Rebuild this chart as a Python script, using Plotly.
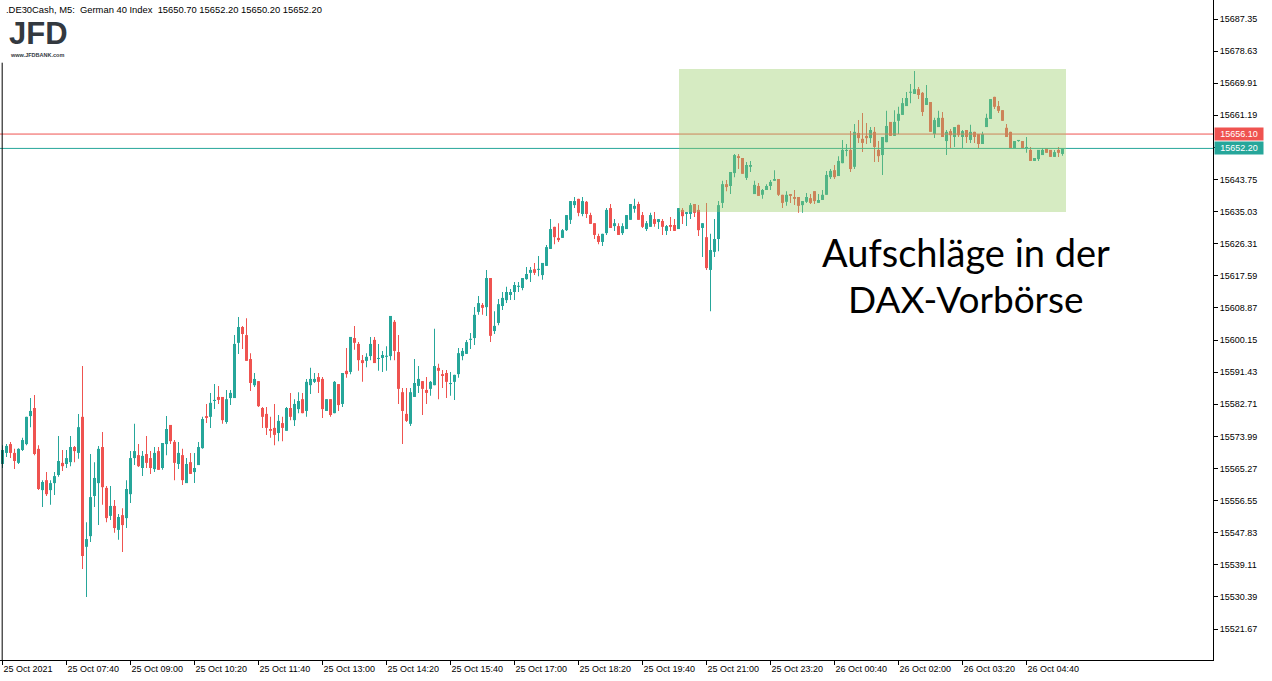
import plotly.graph_objects as go

opens = [15566.5,15569.5,15571.9,15569.5,15566.8,15570.3,15571.9,15579.5,15581.7,15570.6,
15559.4,15562.1,15559.4,15561.3,15563.5,15566.8,15566.5,15567.0,15571.1,15569.5,
15579.3,15544.0,15546.9,15557.8,15561.3,15571.1,15560.0,15552.4,15555.1,15548.6,
15552.6,15551.8,15558.3,15568.1,15568.9,15565.4,15569.2,15568.1,15565.1,15570.0,
15565.4,15571.9,15577.1,15572.5,15566.5,15568.9,15561.3,15567.0,15564.3,15566.2,
15570.8,15579.5,15579.3,15583.6,15584.7,15584.7,15577.9,15584.4,15584.4,15599.4,
15603.7,15601.5,15595.0,15587.9,15589.0,15581.7,15580.1,15576.0,15576.3,15574.9,
15577.6,15575.5,15581.7,15578.4,15581.4,15584.1,15580.9,15587.9,15588.8,15590.1,
15589.6,15580.9,15584.1,15580.3,15588.2,15582.8,15591.8,15591.5,15600.7,15599.1,
15594.7,15594.5,15595.8,15600.2,15595.0,15595.3,15595.6,15595.8,15605.1,15596.9,
15586.0,15580.1,15577.4,15584.7,15587.7,15589.0,15586.6,15586.9,15587.9,15592.6,
15590.9,15591.2,15588.2,15588.8,15590.9,15595.8,15596.4,15600.2,15600.7,15607.8,
15609.7,15609.1,15617.0,15602.6,15604.8,15609.4,15611.0,15612.4,15613.2,15614.6,
15614.3,15616.7,15618.4,15619.4,15619.2,15617.8,15620.3,15624.9,15630.9,15627.9,
15627.9,15630.0,15632.8,15636.8,15638.5,15634.4,15637.7,15634.1,15631.9,15628.4,
15626.8,15629.2,15636.0,15631.1,15631.1,15629.2,15630.3,15632.8,15635.8,15637.1,
15634.1,15630.3,15630.9,15633.0,15632.2,15632.5,15629.8,15631.4,15631.4,15630.3,
15635.5,15634.4,15634.4,15637.1,15635.5,15630.6,15628.1,15619.2,15624.1,15627.6,
15637.4,15642.5,15642.0,15645.5,15650.1,15649.6,15644.2,15647.2,15639.8,15642.0,
15639.6,15640.9,15642.0,15643.4,15643.9,15639.6,15637.7,15639.8,15639.0,15639.0,
15636.8,15637.7,15638.7,15640.6,15637.4,15638.2,15639.6,15644.4,15646.3,15644.7,
15648.2,15651.5,15651.8,15647.2,15656.4,15654.8,15655.6,15655.0,15656.7,15651.8,
15650.4,15653.9,15659.4,15655.6,15659.7,15661.3,15663.7,15667.3,15667.0,15668.3,
15667.3,15664.0,15664.8,15656.1,15658.0,15660.5,15654.2,15656.9,15655.3,15658.6,
15655.3,15657.2,15654.5,15656.7,15656.1,15653.4,15658.0,15660.2,15666.2,15663.7,
15662.6,15657.8,15656.7,15652.3,15654.2,15654.2,15652.3,15651.8,15648.8,15649.3,
15650.4,15652.3,15651.8,15649.9,15651.8,15650.7]

highs = [15571.6,15571.9,15572.5,15570.6,15570.8,15573.6,15579.3,15584.4,15585.2,15571.6,
15562.1,15564.3,15562.1,15564.3,15574.1,15570.3,15570.3,15574.1,15571.4,15580.1,
15593.1,15550.7,15569.2,15567.0,15571.4,15575.2,15560.5,15560.5,15556.7,15552.9,
15554.5,15562.1,15570.0,15577.4,15571.9,15570.0,15574.1,15570.0,15571.1,15571.1,
15572.2,15579.5,15577.1,15573.0,15572.5,15570.6,15568.1,15569.5,15569.5,15572.5,
15579.3,15582.8,15585.8,15588.2,15587.7,15584.7,15586.6,15586.6,15601.5,15606.4,
15604.0,15606.1,15596.6,15591.2,15589.0,15582.0,15582.0,15579.3,15582.8,15579.8,
15579.3,15582.0,15585.8,15584.1,15586.0,15585.8,15589.6,15592.6,15591.2,15591.2,
15590.1,15584.1,15584.1,15589.0,15588.2,15591.2,15598.0,15601.0,15604.0,15599.6,
15596.1,15596.6,15601.0,15601.0,15599.1,15597.2,15598.5,15606.7,15605.6,15601.5,
15587.1,15587.1,15587.1,15595.0,15593.1,15589.0,15590.1,15589.0,15603.2,15593.7,
15592.0,15592.0,15591.5,15590.7,15598.0,15598.0,15600.2,15602.1,15609.1,15612.1,
15610.2,15619.2,15617.0,15608.0,15611.3,15613.2,15614.6,15614.0,15615.9,15615.9,
15617.0,15620.0,15620.0,15621.1,15623.0,15621.1,15626.0,15633.0,15630.9,15631.9,
15630.3,15634.1,15637.9,15639.0,15638.5,15639.0,15637.9,15634.7,15631.9,15629.0,
15629.0,15636.0,15637.1,15633.0,15631.9,15631.9,15634.1,15637.1,15638.5,15637.7,
15634.9,15632.5,15634.7,15634.9,15633.0,15633.0,15631.4,15633.6,15633.0,15636.0,
15636.0,15634.9,15637.4,15637.1,15636.8,15631.9,15637.4,15629.0,15633.0,15637.9,
15643.4,15643.6,15645.8,15650.7,15650.7,15649.6,15648.5,15648.8,15643.4,15642.8,
15641.2,15642.5,15643.6,15646.3,15643.9,15639.6,15640.6,15639.8,15640.9,15639.0,
15637.9,15640.1,15639.8,15640.6,15639.8,15640.9,15646.1,15646.6,15647.7,15650.1,
15654.5,15653.4,15656.9,15658.8,15659.9,15661.8,15659.1,15658.0,15658.0,15654.2,
15655.3,15662.4,15659.4,15662.6,15663.5,15665.9,15667.5,15669.7,15673.2,15668.9,
15667.5,15669.4,15664.8,15660.5,15662.4,15662.1,15657.2,15657.5,15658.0,15658.6,
15657.2,15657.2,15658.6,15656.7,15656.1,15656.7,15661.6,15665.6,15666.2,15665.1,
15662.6,15658.8,15656.7,15654.2,15654.4,15654.2,15655.3,15652.6,15649.6,15651.8,
15652.3,15652.3,15651.8,15651.8,15652.6,15652.2]

lows = [15565.4,15568.4,15568.1,15565.1,15566.5,15570.0,15571.6,15576.5,15568.9,15559.4,
15554.8,15557.8,15555.4,15558.1,15563.0,15564.6,15565.4,15565.9,15567.0,15567.9,
15538.0,15530.4,15545.3,15554.8,15549.9,15555.4,15550.7,15551.3,15547.8,15545.9,
15542.6,15549.1,15555.9,15566.2,15565.7,15563.2,15565.4,15563.8,15564.3,15564.9,
15564.9,15568.9,15571.9,15562.1,15565.1,15560.8,15561.3,15563.8,15561.3,15566.2,
15570.6,15577.6,15576.3,15581.4,15582.8,15577.4,15577.4,15582.5,15584.4,15596.4,
15597.7,15594.5,15586.3,15587.4,15582.0,15576.3,15574.4,15573.6,15571.6,15572.7,
15572.7,15575.5,15578.4,15576.8,15580.3,15580.3,15579.3,15585.5,15588.5,15585.8,
15579.0,15580.9,15579.3,15580.3,15580.9,15582.0,15589.9,15590.9,15597.5,15591.8,
15588.8,15592.8,15594.7,15593.9,15591.8,15591.5,15591.8,15594.7,15594.7,15582.8,
15571.9,15577.9,15576.8,15584.7,15585.8,15579.8,15582.8,15585.0,15587.9,15584.1,
15587.1,15584.4,15585.0,15583.9,15589.9,15594.7,15596.4,15597.7,15598.8,15607.0,
15607.0,15606.7,15599.6,15601.8,15604.2,15608.3,15610.2,15611.0,15611.0,15613.2,
15613.7,15616.5,15615.9,15617.8,15617.5,15616.5,15620.3,15624.9,15626.2,15626.8,
15627.9,15629.8,15631.7,15636.0,15633.8,15633.8,15633.3,15631.7,15627.6,15626.2,
15625.7,15628.7,15630.6,15629.8,15628.7,15628.7,15630.3,15632.8,15634.7,15632.8,
15630.6,15629.8,15630.9,15630.9,15630.3,15628.7,15628.7,15629.8,15629.8,15630.3,
15631.7,15631.1,15633.0,15633.6,15628.4,15622.7,15619.2,15608.0,15622.7,15624.3,
15636.0,15640.6,15639.8,15644.4,15646.6,15645.3,15643.6,15645.8,15639.8,15639.3,
15638.5,15640.9,15640.9,15643.4,15639.3,15636.0,15636.6,15637.4,15636.8,15634.7,
15634.7,15637.4,15637.1,15637.1,15637.4,15638.2,15639.6,15643.9,15643.9,15644.7,
15648.2,15650.1,15645.8,15646.6,15653.7,15651.2,15653.4,15653.7,15648.5,15648.5,
15645.0,15653.9,15655.6,15655.6,15656.1,15661.3,15663.7,15664.5,15667.0,15665.6,
15661.0,15664.0,15656.7,15655.0,15658.0,15655.3,15650.4,15652.3,15652.6,15655.3,
15652.3,15653.7,15653.7,15653.7,15652.3,15653.4,15658.0,15660.2,15662.9,15661.8,
15659.7,15655.3,15652.3,15652.3,15654.0,15652.3,15651.0,15648.8,15648.8,15648.8,
15650.4,15651.0,15649.9,15649.9,15649.9,15650.2]

closes = [15570.3,15571.4,15569.5,15567.3,15570.6,15573.0,15579.3,15580.9,15569.2,15559.7,
15561.6,15558.3,15561.3,15563.2,15567.3,15565.9,15568.1,15571.1,15570.0,15576.5,
15541.5,15546.1,15557.5,15562.7,15570.6,15560.2,15551.8,15555.1,15549.1,15552.1,
15549.9,15559.7,15568.1,15570.0,15565.9,15568.7,15566.8,15565.4,15569.5,15564.9,
15572.2,15576.0,15572.7,15566.8,15569.5,15562.1,15566.5,15563.8,15565.4,15571.1,
15578.7,15579.0,15583.1,15583.6,15583.9,15578.4,15584.1,15585.8,15599.1,15603.7,
15601.8,15594.5,15588.5,15589.6,15582.2,15579.3,15576.3,15575.5,15574.4,15578.2,
15576.3,15581.7,15579.3,15582.8,15583.6,15580.3,15588.8,15589.6,15589.6,15588.8,
15581.4,15584.1,15579.8,15588.8,15582.5,15591.2,15590.9,15601.0,15599.4,15594.7,
15593.9,15595.6,15599.1,15593.9,15595.0,15596.1,15595.6,15606.7,15597.2,15586.9,
15580.9,15578.2,15586.0,15588.5,15589.6,15586.9,15585.8,15588.8,15593.1,15591.8,
15590.4,15588.8,15588.2,15590.7,15596.6,15597.2,15599.6,15600.2,15607.0,15610.2,
15608.9,15617.0,15601.3,15604.0,15609.9,15611.6,15613.2,15613.2,15615.1,15614.6,
15617.0,15618.1,15619.2,15618.4,15619.2,15621.1,15625.4,15630.3,15628.1,15627.3,
15630.0,15634.1,15637.9,15637.9,15634.7,15637.9,15634.4,15631.7,15628.7,15626.8,
15629.0,15635.5,15630.6,15631.9,15628.7,15631.1,15634.1,15637.1,15636.6,15632.8,
15630.9,15631.9,15634.1,15631.7,15633.0,15630.9,15631.1,15630.9,15629.8,15636.0,
15633.8,15634.9,15636.8,15634.7,15630.0,15631.9,15619.7,15624.6,15627.6,15636.8,
15642.5,15641.7,15645.8,15650.4,15649.6,15645.3,15647.7,15647.7,15642.3,15639.3,
15640.9,15642.0,15643.1,15643.9,15639.6,15637.4,15639.6,15639.3,15638.5,15636.6,
15637.9,15639.0,15637.4,15637.9,15638.2,15639.6,15645.0,15646.1,15644.4,15648.8,
15651.8,15651.5,15646.6,15656.7,15655.0,15653.7,15655.0,15657.2,15652.6,15650.1,
15655.3,15658.3,15655.6,15659.4,15661.6,15664.5,15665.9,15667.5,15668.3,15666.7,
15662.1,15665.9,15656.7,15659.9,15660.5,15655.3,15656.7,15655.8,15658.0,15655.8,
15656.9,15655.3,15656.7,15655.3,15653.4,15656.1,15660.5,15665.6,15663.5,15662.4,
15659.7,15655.3,15652.3,15654.2,15654.2,15652.3,15652.6,15648.8,15649.6,15651.8,
15651.8,15651.0,15649.9,15651.2,15651.0,15652.2]

tick_bars = [0, 16, 32, 48, 64, 80, 96, 112, 128, 144, 160, 176, 192, 208, 224, 240, 256]
tick_labels = ["25 Oct 2021", "25 Oct 07:40", "25 Oct 09:00", "25 Oct 10:20", "25 Oct 11:40",
               "25 Oct 13:00", "25 Oct 14:20", "25 Oct 15:40", "25 Oct 17:00", "25 Oct 18:20",
               "25 Oct 19:40", "25 Oct 21:00", "25 Oct 23:20", "26 Oct 00:40", "26 Oct 02:00",
               "26 Oct 03:20", "26 Oct 04:40"]
price_ticks = [15521.67, 15530.39, 15539.11, 15547.83, 15556.55, 15565.27, 15573.99, 15582.71,
               15591.43, 15600.15, 15608.87, 15617.59, 15626.31, 15635.03, 15643.75, 15652.47,
               15661.19, 15669.91, 15678.63, 15687.35]
ask_price = 15656.10
bid_price = 15652.20
zone_low, zone_high = 15634.9, 15673.8
zone_start_bar, zone_end_bar = 169, 265

UP = "#26a69a"
DOWN = "#ef5350"

n = len(opens)
bars = list(range(n))
colors = [UP if c >= o else DOWN for o, c in zip(opens, closes)]
body_base = [min(o, c) for o, c in zip(opens, closes)]
body_h = [max(abs(c - o), 0.3) for o, c in zip(opens, closes)]
wick_h = [h - l for h, l in zip(highs, lows)]

fig = go.Figure()
fig.add_trace(go.Bar(x=bars, y=wick_h, base=lows, width=0.25,
                     marker=dict(color=colors, line=dict(width=0)), hoverinfo="skip"))
fig.add_trace(go.Bar(x=bars, y=body_h, base=body_base, width=0.75,
                     marker=dict(color=colors, line=dict(width=0)), hoverinfo="skip"))

FONT = "Liberation Sans"

fig.update_layout(
    width=1272, height=681,
    margin=dict(l=0, r=59, t=0, b=21),
    paper_bgcolor="white", plot_bgcolor="white",
    barmode="overlay", showlegend=False,
    font=dict(family=FONT, size=9, color="black"),
    xaxis=dict(range=[-0.625, 302.625], tickmode="array", tickvals=tick_bars, ticktext=tick_labels,
               ticklabelposition="outside right", ticks="outside", ticklen=4, tickcolor="black",
               showline=True, linecolor="black", linewidth=1, showgrid=False, zeroline=False,
               tickfont=dict(family=FONT, size=9, color="black"), automargin=False, fixedrange=True),
    yaxis=dict(range=[15513.26, 15692.51], side="right", tickmode="array", tickvals=price_ticks,
               ticktext=[f"{v:.2f}" for v in price_ticks], ticks="outside", ticklen=4, tickcolor="black",
               showline=True, linecolor="black", linewidth=1, showgrid=False, zeroline=False,
               tickfont=dict(family=FONT, size=9, color="black"), automargin=False, fixedrange=True),
)

shapes = [
    dict(type="line", xref="paper", yref="y", x0=0, x1=1, y0=ask_price, y1=ask_price,
         line=dict(color=DOWN, width=1), layer="above"),
    dict(type="line", xref="paper", yref="y", x0=0, x1=1, y0=bid_price, y1=bid_price,
         line=dict(color=UP, width=1), layer="above"),
    dict(type="rect", xref="x", yref="y", x0=zone_start_bar + 0.125, x1=zone_end_bar + 0.875,
         y0=zone_low, y1=zone_high, fillcolor="rgb(153,204,102)", opacity=0.4,
         line=dict(width=0), layer="above"),
    dict(type="line", xref="paper", yref="paper", x0=0.0018, x1=0.0018, y0=0, y1=0.905,
         line=dict(color="black", width=1), layer="above"),
]
fig.update_layout(shapes=shapes)

annotations = [
    dict(text=".DE30Cash, M5:  German 40 Index  15650.70 15652.20 15650.20 15652.20",
         xref="paper", yref="paper", x=0.003, y=0.997, xanchor="left", yanchor="top",
         showarrow=False, font=dict(family=FONT, size=9.4, color="black"), bgcolor="white"),
    dict(text="<b>JFD</b>", xref="paper", yref="paper", x=0.006, y=0.9788, xanchor="left", yanchor="top",
         showarrow=False, font=dict(family=FONT, size=31, color="#33393f")),
    dict(text="<b>www.JFDBANK.com</b>", xref="paper", yref="paper", x=0.007, y=0.9247, xanchor="left",
         yanchor="top", showarrow=False, font=dict(family=FONT, size=5.5, color="#33393f")),
    dict(text="Aufschläge in der", xref="paper", yref="paper", x=0.7964, y=1 - 252 / 660,
         xanchor="center", yanchor="middle", showarrow=False,
         font=dict(family="Lato", size=38, color="black")),
    dict(text="DAX-Vorbörse", xref="paper", yref="paper", x=0.7964, y=1 - 298 / 660,
         xanchor="center", yanchor="middle", showarrow=False,
         font=dict(family="Lato", size=37, color="black")),
    dict(text=f"{ask_price:.2f}", xref="paper", yref="y", x=1.0, y=ask_price, xanchor="left",
         yanchor="middle", showarrow=False, bgcolor=DOWN, borderpad=1, width=46, xshift=1,
         font=dict(family=FONT, size=9, color="white")),
    dict(text=f"{bid_price:.2f}", xref="paper", yref="y", x=1.0, y=bid_price, xanchor="left",
         yanchor="middle", showarrow=False, bgcolor=UP, borderpad=1, width=46, xshift=1,
         font=dict(family=FONT, size=9, color="white")),
]
fig.update_layout(annotations=annotations)

fig.write_html("out.html", config={"displayModeBar": False, "staticPlot": True},
               post_script="document.body.style.margin='0';document.body.style.padding='0';")
